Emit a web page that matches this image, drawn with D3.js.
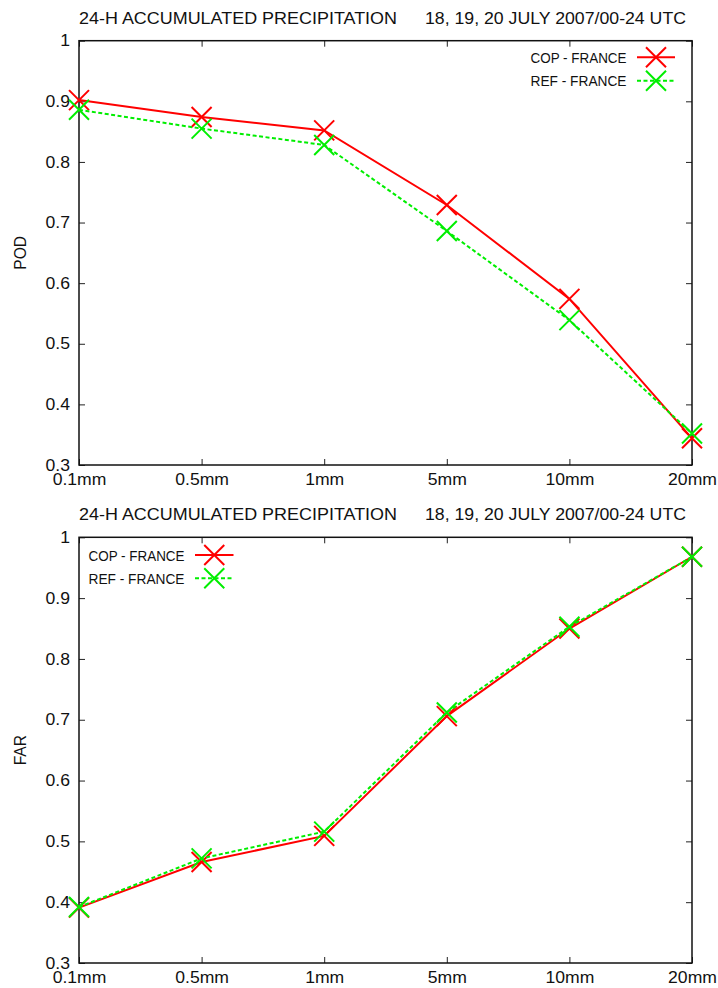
<!DOCTYPE html>
<html><head><meta charset="utf-8">
<script src="https://cdn.jsdelivr.net/npm/d3@7"></script>
<style>
html,body{margin:0;padding:0;background:#fff;}
svg{display:block;font-family:"Liberation Sans",Arial,Helvetica,sans-serif;}
</style></head>
<body><svg id="c" width="718" height="988"></svg>
<script>
const categories = ["0.1mm","0.5mm","1mm","5mm","10mm","20mm"];
const podCop = [0.902,0.874,0.852,0.729,0.574,0.344];
const podRef = [0.886,0.855,0.828,0.686,0.539,0.352];
const farCop = [0.391,0.466,0.509,0.706,0.850,0.968];
const farRef = [0.392,0.472,0.516,0.712,0.853,0.968];
const yTicks = [0.3,0.4,0.5,0.6,0.7,0.8,0.9,1];
const yTickLabels = ["0.3","0.4","0.5","0.6","0.7","0.8","0.9","1"];
const titleLeft = "24-H ACCUMULATED PRECIPITATION";
const titleRight = "18, 19, 20 JULY 2007/00-24 UTC";
const seriesNames = ["COP - FRANCE","REF - FRANCE"];

const svg = d3.select("#c");
const colors = ["#ff0000","#00ee00"];
const dashes = [null,"4,2.5"];

function stretch(sel,f){
  sel.each(function(){
    const L = this.getComputedTextLength();
    d3.select(this).attr("textLength",L*f).attr("lengthAdjust","spacingAndGlyphs");
  });
}

function panel(cfg){
  const {top,bottom,left,right,ylabel,data,titleY,legend} = cfg;
  const x = d3.scalePoint(categories,[left,right]);
  const y = d3.scaleLinear([0.3,1],[bottom,top]);
  const g = svg.append("g");
  // title
  g.append("text").attr("x",79).attr("y",titleY).attr("font-size",15.8).attr("fill","#111")
    .attr("textLength",318).attr("lengthAdjust","spacingAndGlyphs").text(titleLeft);
  g.append("text").attr("x",425).attr("y",titleY).attr("font-size",15.8).attr("fill","#111")
    .attr("textLength",261).attr("lengthAdjust","spacingAndGlyphs").text(titleRight);
  // axes
  const ax = g.append("g").attr("transform",`translate(0,${bottom})`)
    .call(d3.axisBottom(x).tickSizeInner(-6).tickSizeOuter(0).tickPadding(8.5));
  const axT = g.append("g").attr("transform",`translate(0,${top})`)
    .call(d3.axisTop(x).tickSizeInner(-6).tickSizeOuter(0).tickFormat(""));
  const ay = g.append("g").attr("transform",`translate(${left},0)`)
    .call(d3.axisLeft(y).tickValues(yTicks).tickFormat((d,i)=>yTickLabels[i]).tickSizeInner(-6).tickSizeOuter(0).tickPadding(9));
  const ayR = g.append("g").attr("transform",`translate(${right},0)`)
    .call(d3.axisRight(y).tickValues(yTicks).tickFormat("").tickSizeInner(-6).tickSizeOuter(0));
  [ax,axT,ay,ayR].forEach(a=>{a.select(".domain").remove();a.selectAll("line").attr("stroke","#222");a.selectAll("text").attr("font-size",16.3).attr("fill","#111").attr("font-family","Liberation Sans, Arial, sans-serif");});
  ax.selectAll("text").attr("dy","0.71em");
  stretch(ax.selectAll("text"),1.08);
  stretch(ay.selectAll("text"),1.08);
  g.append("rect").attr("x",left).attr("y",top).attr("width",right-left).attr("height",bottom-top)
    .attr("fill","none").attr("stroke","#111").attr("stroke-width",1.5);
  // y label
  g.append("text").attr("transform",`translate(26,${(top+bottom)/2}) rotate(-90)`)
    .attr("text-anchor","middle").attr("font-size",15.6).attr("fill","#111").text(ylabel);
  // series
  const line = d3.line().x((d,i)=>x(categories[i])).y(d=>y(d));
  const r = 10;
  const cross = (sel,cx,cy,col)=>{
    sel.append("path").attr("d",`M${cx-r},${cy-r}L${cx+r},${cy+r}M${cx-r},${cy+r}L${cx+r},${cy-r}`)
      .attr("stroke",col).attr("stroke-width",2).attr("fill","none");
  };
  data.forEach((vals,k)=>{
    const p = g.append("path").attr("d",line(vals)).attr("fill","none").attr("stroke",colors[k]).attr("stroke-width",2);
    if(dashes[k]) p.attr("stroke-dasharray",dashes[k]);
    vals.forEach((v,i)=>cross(g,x(categories[i]),y(v),colors[k]));
  });
  // legend
  legend.rows.forEach((ly,k)=>{
    g.append("text").attr("x",legend.textRight).attr("y",ly+0.8).attr("dy","0.35em").attr("text-anchor","end")
      .attr("font-size",14).attr("fill","#111")
      .attr("textLength",96).attr("lengthAdjust","spacingAndGlyphs").text(seriesNames[k]);
    const l = g.append("line").attr("x1",legend.x1).attr("x2",legend.x2).attr("y1",ly).attr("y2",ly)
      .attr("stroke",colors[k]).attr("stroke-width",2);
    if(dashes[k]) l.attr("stroke-dasharray",dashes[k]);
    cross(g,(legend.x1+legend.x2)/2,ly,colors[k]);
  });
}

panel({top:40.7,bottom:465,left:79,right:692,ylabel:"POD",data:[podCop,podRef],titleY:24,
  legend:{rows:[57.3,80.7],textRight:626.5,x1:637,x2:675}});
panel({top:537.3,bottom:963,left:79,right:692,ylabel:"FAR",data:[farCop,farRef],titleY:520,
  legend:{rows:[555,578.3],textRight:184.5,x1:195,x2:233.5}});
</script></body></html>
